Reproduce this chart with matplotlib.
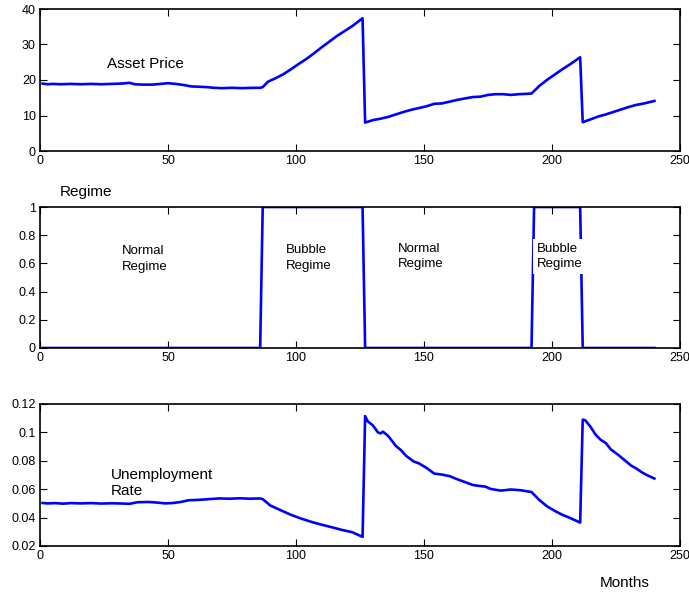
import matplotlib
matplotlib.use("Agg")
import matplotlib.pyplot as plt
from matplotlib.ticker import FuncFormatter

plt.rcParams['font.family'] = ['Liberation Sans', 'DejaVu Sans']

# ---------------- data ----------------
price_months = [1, 3, 5, 8, 12, 16, 20, 24, 28, 32, 35, 37, 40, 44, 47, 50, 53, 56, 59, 62,
                65, 68, 71, 75, 79, 83, 86, 87, 89, 92, 95, 98, 101, 104, 107, 110, 113, 116,
                119, 122, 126, 127, 130, 133, 136, 139, 142, 145, 148, 151, 154, 157, 160, 163,
                166, 169, 172, 175, 178, 181, 184, 187, 190, 192, 195, 198, 201, 204, 207, 211,
                212, 215, 218, 221, 224, 227, 230, 233, 236, 240]
price_values = [19.0, 18.8, 18.9, 18.8, 18.9, 18.8, 18.9, 18.8, 18.9, 19.0, 19.2, 18.8, 18.7,
                18.7, 18.9, 19.1, 18.9, 18.6, 18.2, 18.1, 18.0, 17.8, 17.7, 17.8, 17.7, 17.8,
                17.8, 18.0, 19.5, 20.5, 21.6, 23.0, 24.5, 25.9, 27.5, 29.2, 30.8, 32.4, 33.8,
                35.2, 37.4, 8.0, 8.7, 9.1, 9.6, 10.3, 11.0, 11.6, 12.1, 12.6, 13.3, 13.4, 13.9,
                14.4, 14.8, 15.2, 15.3, 15.8, 16.0, 16.0, 15.8, 16.0, 16.1, 16.2, 18.3, 20.0,
                21.5, 23.0, 24.4, 26.4, 8.1, 8.9, 9.7, 10.3, 11.0, 11.7, 12.4, 13.0, 13.4, 14.1]

regime_months = [1, 86, 87, 126, 127, 192, 193, 211, 212, 240]
regime_values = [0, 0, 1, 1, 0, 0, 1, 1, 0, 0]

unemp_months = [1, 3, 6, 9, 12, 16, 20, 24, 28, 32, 35, 38, 42, 45, 49, 52, 55, 58, 62, 66,
                70, 74, 78, 82, 86, 87, 90, 94, 98, 102, 106, 110, 114, 118, 122, 126, 127,
                128, 130, 132, 133, 134, 136, 139, 141, 143, 146, 148, 151, 154, 157, 160, 163,
                166, 169, 172, 174, 176, 180, 184, 188, 192, 195, 198, 201, 204, 207, 211, 212,
                213, 215, 217, 219, 221, 223, 226, 229, 231, 233, 235, 237, 240]
unemp_values = [0.0503, 0.0500, 0.0502, 0.0498, 0.0502, 0.0500, 0.0502, 0.0499, 0.0501, 0.0499,
                0.0497, 0.0508, 0.0510, 0.0507, 0.0500, 0.0503, 0.0510, 0.0522, 0.0525, 0.0530,
                0.0535, 0.0533, 0.0536, 0.0533, 0.0535, 0.0530, 0.0485, 0.0452, 0.0420, 0.0393,
                0.0370, 0.0350, 0.0332, 0.0313, 0.0297, 0.0264, 0.1115, 0.1078, 0.1050, 0.1000,
                0.0993, 0.1005, 0.0975, 0.0905, 0.0875, 0.0835, 0.0795, 0.0782, 0.0750, 0.0710,
                0.0703, 0.0692, 0.0670, 0.0650, 0.0630, 0.0622, 0.0618, 0.0602, 0.0590, 0.0598,
                0.0592, 0.0580, 0.0525, 0.0480, 0.0448, 0.0420, 0.0398, 0.0365, 0.1090, 0.1085,
                0.1040, 0.0985, 0.0948, 0.0925, 0.0880, 0.0840, 0.0795, 0.0765, 0.0745, 0.0720,
                0.0700, 0.0675]

x_ticks = [0, 50, 100, 150, 200, 250]
price_ticks = [0, 10, 20, 30, 40]
regime_ticks = [0, 0.2, 0.4, 0.6, 0.8, 1]
unemp_ticks = [0.02, 0.04, 0.06, 0.08, 0.1, 0.12]

# ---------------- figure ----------------
W, H = 689, 594
fig = plt.figure(figsize=(W / 100, H / 100), dpi=100)

def axes_px(left, top, right, bottom):
    return fig.add_axes([left / W, 1 - bottom / H, (right - left) / W, (bottom - top) / H])

ax1 = axes_px(40, 9, 680, 151)
ax2 = axes_px(40, 207, 680, 348)
ax3 = axes_px(40, 404, 680, 546)

blue = '#0000ff'
lw = 1.9

ax1.plot(price_months, price_values, color=blue, lw=lw)
ax2.plot(regime_months, regime_values, color=blue, lw=lw, zorder=2)
ax3.plot(unemp_months, unemp_values, color=blue, lw=lw)

fmt = FuncFormatter(lambda v, p: ('%g' % round(v, 4)))
for ax, yt, yl in [(ax1, price_ticks, (0, 40)), (ax2, regime_ticks, (0, 1)),
                   (ax3, unemp_ticks, (0.02, 0.12))]:
    ax.set_xlim(0, 250)
    ax.set_ylim(*yl)
    ax.set_xticks(x_ticks)
    ax.set_yticks(yt)
    ax.yaxis.set_major_formatter(fmt)
    ax.tick_params(direction='in', top=True, right=True, length=5, width=0.8,
                   labelsize=9, pad=3, colors='black')
    for s in ax.spines.values():
        s.set_linewidth(1.2)

ax1.text(26, 24.4, 'Asset Price', fontsize=11, va='center', ha='left')

ax2.text(7.8, 1.105, 'Regime', fontsize=11, va='center', ha='left', clip_on=False)
rkw = dict(fontsize=9.5, va='center', ha='left', linespacing=1.4)
ax2.text(32, 0.63, 'Normal\nRegime', **rkw)
ax2.text(95.9, 0.64, 'Bubble\nRegime', **rkw)
ax2.text(139.7, 0.65, 'Normal\nRegime', **rkw)
ax2.text(194.1, 0.65, 'Bubble\nRegime', zorder=5,
         bbox=dict(facecolor='white', edgecolor='none', pad=2.5), **rkw)

ax3.text(27.6, 0.0644, 'Unemployment\nRate', fontsize=11, va='center', ha='left',
         linespacing=1.1)

fig.text(625 / W, 1 - 583 / H, 'Months', fontsize=11, ha='center', va='center')

fig.savefig('out.png', dpi=100)
